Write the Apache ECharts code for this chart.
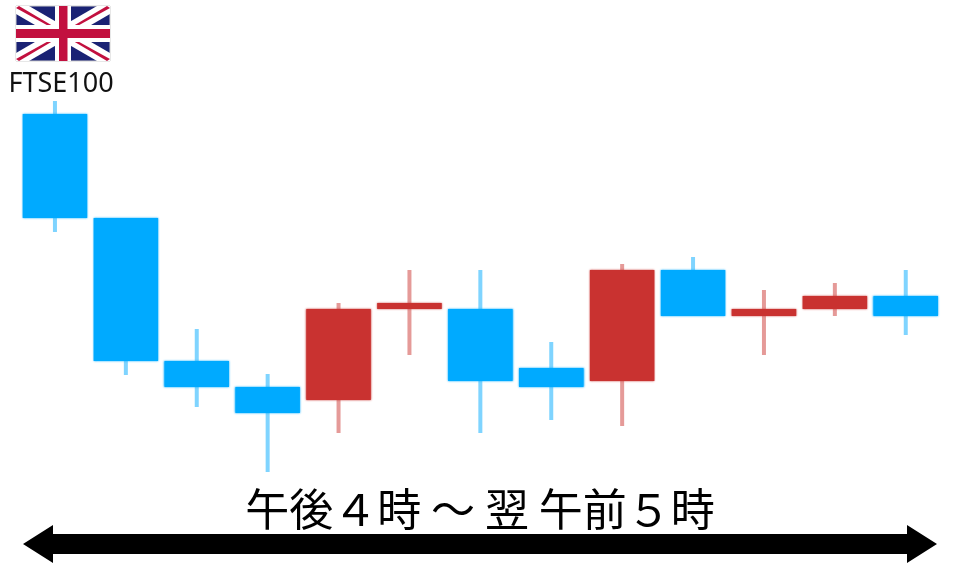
<!DOCTYPE html>
<html>
<head>
<meta charset="utf-8">
<title>FTSE100</title>
<style>
	html, body { margin: 0; padding: 0; background: #fff; }
	#chart { width: 960px; height: 567px; }
</style>
<script src="https://cdn.jsdelivr.net/npm/echarts@6/dist/echarts.min.js"></script>
</head>
<body>
<div id="chart"></div>
<script>
const sessions = ['1', '2', '3', '4', '5', '6', '7', '8', '9', '10', '11', '12', '13'];
const opens = [366, 262, 119, 93, 80, 171, 171, 112, 99, 210, 164, 171, 184];
const closes = [262, 119, 93, 67, 171, 177, 99, 93, 210, 164, 171, 184, 164];
const highs = [379, 262, 151, 106, 177, 210, 210, 138, 216, 223, 190, 197, 210];
const lows = [248, 105, 73, 8, 47, 125, 47, 60, 54, 164, 125, 164, 145];

const UP_BODY = '#c93230';
const UP_WICK = '#e59a98';
const DOWN_BODY = '#00aaff';
const DOWN_WICK = '#7fd4ff';

const candleData = sessions.map((s, i) => [i, opens[i], closes[i], lows[i], highs[i]]);

function renderCandle(params, api) {
	const x = api.value(0);
	const open = api.coord([x, api.value(1)]);
	const close = api.coord([x, api.value(2)]);
	const low = api.coord([x, api.value(3)]);
	const high = api.coord([x, api.value(4)]);
	const bodyWidth = api.size([1, 0])[0] * 0.91;
	const isUp = api.value(2) > api.value(1);
	const bodyColor = isUp ? UP_BODY : DOWN_BODY;
	return {
		type: 'group',
		children: [
			{
				type: 'rect',
				shape: { x: high[0] - 2, y: high[1], width: 4, height: low[1] - high[1] },
				style: { fill: isUp ? UP_WICK : DOWN_WICK }
			},
			{
				type: 'rect',
				shape: {
					x: open[0] - bodyWidth / 2,
					y: Math.min(open[1], close[1]),
					width: bodyWidth,
					height: Math.abs(open[1] - close[1])
				},
				// the reference is a scaled up bitmap, so edges are a bit soft
				style: { fill: bodyColor, shadowBlur: 2, shadowColor: bodyColor }
			}
		]
	};
}

// union jack, drawn as page decoration
const flag = { x: 16, y: 6, w: 94, h: 55 };
function flagPart(points, fill) {
	return { type: 'polygon', shape: { points: points }, style: { fill: fill } };
}
const NAVY = '#1a2274';
const FLAG_RED = '#c2103f';
const flagParts = [
	{
		type: 'rect',
		shape: { x: flag.x, y: flag.y, width: flag.w, height: flag.h },
		style: { fill: NAVY, stroke: '#cfcfcf', lineWidth: 1 }
	},
	flagPart([[16, 6], [29, 6], [110, 53], [110, 61], [97, 61], [16, 14]], '#fff'),
	flagPart([[97, 6], [110, 6], [110, 14], [29, 61], [16, 61], [16, 53]], '#fff'),
	flagPart([[16, 8], [19, 6], [58, 29], [54, 29]], FLAG_RED),
	flagPart([[107, 6], [110, 8], [72, 29], [68, 29]], FLAG_RED),
	flagPart([[16, 59], [19, 61], [58, 38], [54, 38]], FLAG_RED),
	flagPart([[107, 61], [110, 59], [72, 38], [68, 38]], FLAG_RED),
	{ type: 'rect', shape: { x: 55, y: 6, width: 16, height: 55 }, style: { fill: '#fff' } },
	{ type: 'rect', shape: { x: 16, y: 25, width: 94, height: 17 }, style: { fill: '#fff' } },
	{ type: 'rect', shape: { x: 59, y: 6, width: 8.5, height: 55 }, style: { fill: FLAG_RED } },
	{ type: 'rect', shape: { x: 16, y: 29, width: 94, height: 9 }, style: { fill: FLAG_RED } }
];

const myChart = echarts.init(document.getElementById('chart'), null, { renderer: 'canvas' });
myChart.setOption({
	animation: false,
	backgroundColor: '#fff',
	grid: { left: 19.5, top: 100, width: 921.7, height: 380 },
	xAxis: { type: 'category', data: sessions, show: false },
	yAxis: { type: 'value', min: 0, max: 380, show: false },
	series: [
		{
			type: 'custom',
			name: 'FTSE100',
			renderItem: renderCandle,
			encode: { x: 0, y: [1, 2, 3, 4] },
			data: candleData
		}
	],
	graphic: [
		...flagParts,
		{
			type: 'text',
			x: 61,
			y: 84,
			style: {
				text: 'FTSE100',
				font: '27px "Noto Sans", sans-serif',
				fill: '#111',
				align: 'center',
				verticalAlign: 'middle'
			}
		},
		{
			type: 'text',
			x: 480,
			y: 509,
			style: {
				text: '午後４時 ～ 翌 午前５時',
				font: '44px "Noto Sans CJK JP", sans-serif',
				fill: '#000',
				align: 'center',
				verticalAlign: 'middle'
			}
		},
		{
			type: 'polygon',
			shape: {
				points: [[23, 544], [53, 525], [53, 534], [907, 534], [907, 525], [937, 544], [907, 563], [907, 554], [53, 554], [53, 563]]
			},
			style: { fill: '#000' }
		}
	]
});
</script>
</body>
</html>
